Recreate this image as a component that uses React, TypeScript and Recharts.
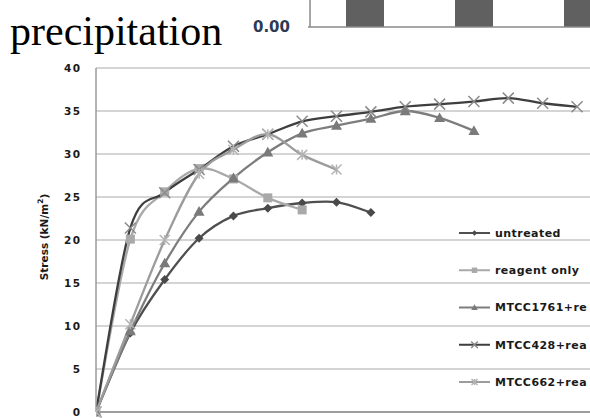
import React from 'react';
import { LineChart, Line, XAxis, YAxis, CartesianGrid, Legend, BarChart, Bar } from 'recharts';

// ---------- data ----------
const xIndex = [0, 1, 2, 3, 4, 5, 6, 7, 8, 9, 10, 11, 12, 13, 14];
const xTicks = [0, 1, 2, 3, 4, 5, 6, 7, 8, 9, 10, 11, 12, 13, 14, 15];
const yTicks = [0, 5, 10, 15, 20, 25, 30, 35, 40];

const untreated = [0, 9.2, 15.4, 20.2, 22.8, 23.7, 24.3, 24.4, 23.2];
const reagentOnly = [0, 20.1, 25.6, 28.3, 27.1, 24.9, 23.5];
const mtcc1761 = [0, 9.4, 17.3, 23.3, 27.2, 30.2, 32.4, 33.3, 34.1, 35.0, 34.2, 32.7];
const mtcc428 = [0, 21.4, 25.5, 28.2, 30.9, 32.3, 33.8, 34.4, 34.9, 35.5, 35.8, 36.1, 36.5, 35.9, 35.5];
const mtcc662 = [0, 10.2, 20.0, 27.7, 30.5, 32.3, 29.9, 28.2];

const seriesKeys = ['untreated', 'reagent', 'm1761', 'm428', 'm662'];
// legend labels as visible in the (cropped) reference
const seriesNames = ['untreated', 'reagent only', 'MTCC1761+re', 'MTCC428+rea', 'MTCC662+rea'];
const seriesValues = [untreated, reagentOnly, mtcc1761, mtcc428, mtcc662];
const seriesColors = ['#4f4f4f', '#a9a9a9', '#7d7d7d', '#3e3e3e', '#9c9c9c'];
const markerColors = ['#4a4a4a', '#a9a9a9', '#7a7a7a', '#8a8a8a', '#b4b4b4'];
const seriesShapes = ['diamond', 'square', 'triangle', 'x', 'star'];

// top (cropped) bar chart
const topCategories = ['a', 'b', 'c', 'd'];
const topValues = [0.9, 0.9, 0.9, 0.9];
const topTicks = [0];

const lineData = xIndex.map((x) => {
  const row: any = { x };
  seriesKeys.forEach((k, i) => {
    const v = seriesValues[i][x];
    row[k] = v === undefined ? null : v;
  });
  return row;
});
const barData = topCategories.map((c, i) => ({ c, v: topValues[i] }));

// Excel-like smoothed curve (Catmull-Rom as cubic Bezier)
function smoothCurve(context: any) {
  let pts: number[][] = [];
  return {
    areaStart() {},
    areaEnd() {},
    lineStart() {
      pts = [];
    },
    lineEnd() {
      const n = pts.length;
      if (n === 0) return;
      context.moveTo(pts[0][0], pts[0][1]);
      for (let i = 0; i < n - 1; i++) {
        const p0 = pts[i - 1] || pts[i];
        const p1 = pts[i];
        const p2 = pts[i + 1];
        const p3 = pts[i + 2] || p2;
        const t = 1 / 6;
        context.bezierCurveTo(
          p1[0] + (p2[0] - p0[0]) * t,
          p1[1] + (p2[1] - p0[1]) * t,
          p2[0] - (p3[0] - p1[0]) * t,
          p2[1] - (p3[1] - p1[1]) * t,
          p2[0],
          p2[1]
        );
      }
    },
    point(x: number, y: number) {
      pts.push([+x, +y]);
    },
  };
}

function Marker({ shape, cx, cy, color, s = 1 }: any) {
  if (cx == null || cy == null || isNaN(cx) || isNaN(cy)) return <g />;
  switch (shape) {
    case 'diamond': {
      const r = 4.5 * s;
      return <path d={`M${cx},${cy - r}L${cx + r},${cy}L${cx},${cy + r}L${cx - r},${cy}Z`} fill={color} />;
    }
    case 'square': {
      const r = 4.5 * s;
      return <rect x={cx - r} y={cy - r} width={2 * r} height={2 * r} fill={color} />;
    }
    case 'triangle': {
      const r = 5.5 * s;
      return <path d={`M${cx},${cy - r}L${cx + r},${cy + r * 0.75}L${cx - r},${cy + r * 0.75}Z`} fill={color} />;
    }
    case 'x': {
      const r = 5.5 * s;
      return (
        <path
          d={`M${cx - r},${cy - r}L${cx + r},${cy + r}M${cx + r},${cy - r}L${cx - r},${cy + r}`}
          stroke={color}
          strokeWidth={1.5}
          fill="none"
        />
      );
    }
    default: {
      const r = 5 * s;
      return (
        <path
          d={`M${cx - r},${cy - r}L${cx + r},${cy + r}M${cx + r},${cy - r}L${cx - r},${cy + r}M${cx},${cy - r}L${cx},${cy + r}`}
          stroke={color}
          strokeWidth={1.5}
          fill="none"
        />
      );
    }
  }
}

const YTick = (props: any) => {
  const { x, y, payload } = props;
  return (
    <text
      x={x + 1.5}
      y={y}
      dy="0.36em"
      textAnchor="end"
      fontFamily="DejaVu Sans"
      fontWeight="bold"
      fontSize={10.5}
      letterSpacing={1.5}
      fill="#1a1a1a"
    >
      {payload.value}
    </text>
  );
};

const TopTick = (props: any) => {
  const { x, y, payload } = props;
  return (
    <text
      x={x}
      y={y}
      dy="0.36em"
      textAnchor="end"
      fontFamily="DejaVu Sans"
      fontWeight="bold"
      fontSize={15}
      fill="#2e3a55"
    >
      {Number(payload.value).toFixed(2)}
    </text>
  );
};

const YLabel = () => (
  <text
    x={44}
    y={237}
    transform="rotate(-90, 44, 237)"
    textAnchor="middle"
    dominantBaseline="central"
    fontFamily="DejaVu Sans"
    fontWeight="bold"
    fontSize={10.5}
    fill="#1a1a1a"
  >
    Stress (kN/m<tspan dy={-4} fontSize={7.5}>2</tspan>
    <tspan dy={4}>)</tspan>
  </text>
);

const renderLegend = () => (
  <svg width={131} height={190} style={{ overflow: 'hidden', display: 'block' }}>
    {seriesNames.map((name, i) => {
      const cy = 11 + 37.25 * i;
      return (
        <g key={name}>
          <line x1={0} x2={31} y1={cy} y2={cy} stroke={seriesColors[i]} strokeWidth={2} />
          <Marker shape={seriesShapes[i]} cx={15.5} cy={cy} color={markerColors[i]} s={0.6} />
          <text
            x={36}
            y={cy}
            dy="0.36em"
            fontFamily="DejaVu Sans"
            fontWeight="bold"
            fontSize={11}
            letterSpacing={0.45}
            fill="#1a1a1a"
          >
            {name}
          </text>
        </g>
      );
    })}
  </svg>
);

export default function App() {
  return (
    <div
      style={{
        position: 'absolute',
        left: 0,
        top: 0,
        width: 590,
        height: 418,
        overflow: 'hidden',
        background: '#fff',
      }}
    >
      <div
        style={{
          position: 'absolute',
          left: 10,
          top: 6,
          fontFamily: 'Liberation Serif',
          fontSize: 42,
          lineHeight: '50px',
          color: '#000',
          whiteSpace: 'nowrap',
        }}
      >
        precipitation
      </div>

      <div style={{ position: 'absolute', left: 240, top: -71 }}>
        <BarChart width={506} height={120} data={barData} margin={{ top: 0, right: 0, bottom: 20, left: 0 }}>
          <XAxis dataKey="c" height={2} tick={false} tickLine={false} stroke="#8a8a8a" strokeWidth={1.5} />
          <YAxis
            width={70}
            domain={[0, 1.2]}
            ticks={topTicks}
            interval={0}
            tick={<TopTick />}
            tickSize={2}
            tickMargin={18}
            stroke="#8a8a8a"
            strokeWidth={1.5}
          />
          <Bar dataKey="v" fill="#606060" barSize={38} isAnimationActive={false} />
        </BarChart>
      </div>

      <div style={{ position: 'absolute', left: 0, top: 0 }}>
        <LineChart width={640} height={418} data={lineData} margin={{ top: 68, right: 28.6, bottom: 0, left: 0 }}>
          <CartesianGrid vertical={false} stroke="#c6c6c6" strokeWidth={1.5} />
          <XAxis
            dataKey="x"
            type="number"
            domain={[0, 15]}
            ticks={xTicks}
            interval={0}
            tick={false}
            tickSize={5}
            height={6}
            stroke="#8c8c8c"
            strokeWidth={1.5}
            allowDataOverflow
          />
          <YAxis
            width={96}
            domain={[0, 40]}
            ticks={yTicks}
            interval={0}
            tick={<YTick />}
            tickLine={false}
            tickMargin={10}
            stroke="#9a9a9a"
            strokeWidth={1.5}
            label={YLabel}
          />
          <Legend
            layout="vertical"
            align="center"
            verticalAlign="middle"
            content={renderLegend}
            wrapperStyle={{ left: 459, top: 222, width: 131, height: 190 }}
          />
          {seriesKeys.map((k, i) => (
            <Line
              key={k}
              dataKey={k}
              name={seriesNames[i]}
              type={smoothCurve as any}
              stroke={seriesColors[i]}
              strokeWidth={2.3}
              isAnimationActive={false}
              connectNulls={false}
              dot={(p: any) => (
                <Marker key={`${k}-${p.index}`} shape={seriesShapes[i]} cx={p.cx} cy={p.cy} color={markerColors[i]} />
              )}
              activeDot={false}
            />
          ))}
        </LineChart>
      </div>
    </div>
  );
}
